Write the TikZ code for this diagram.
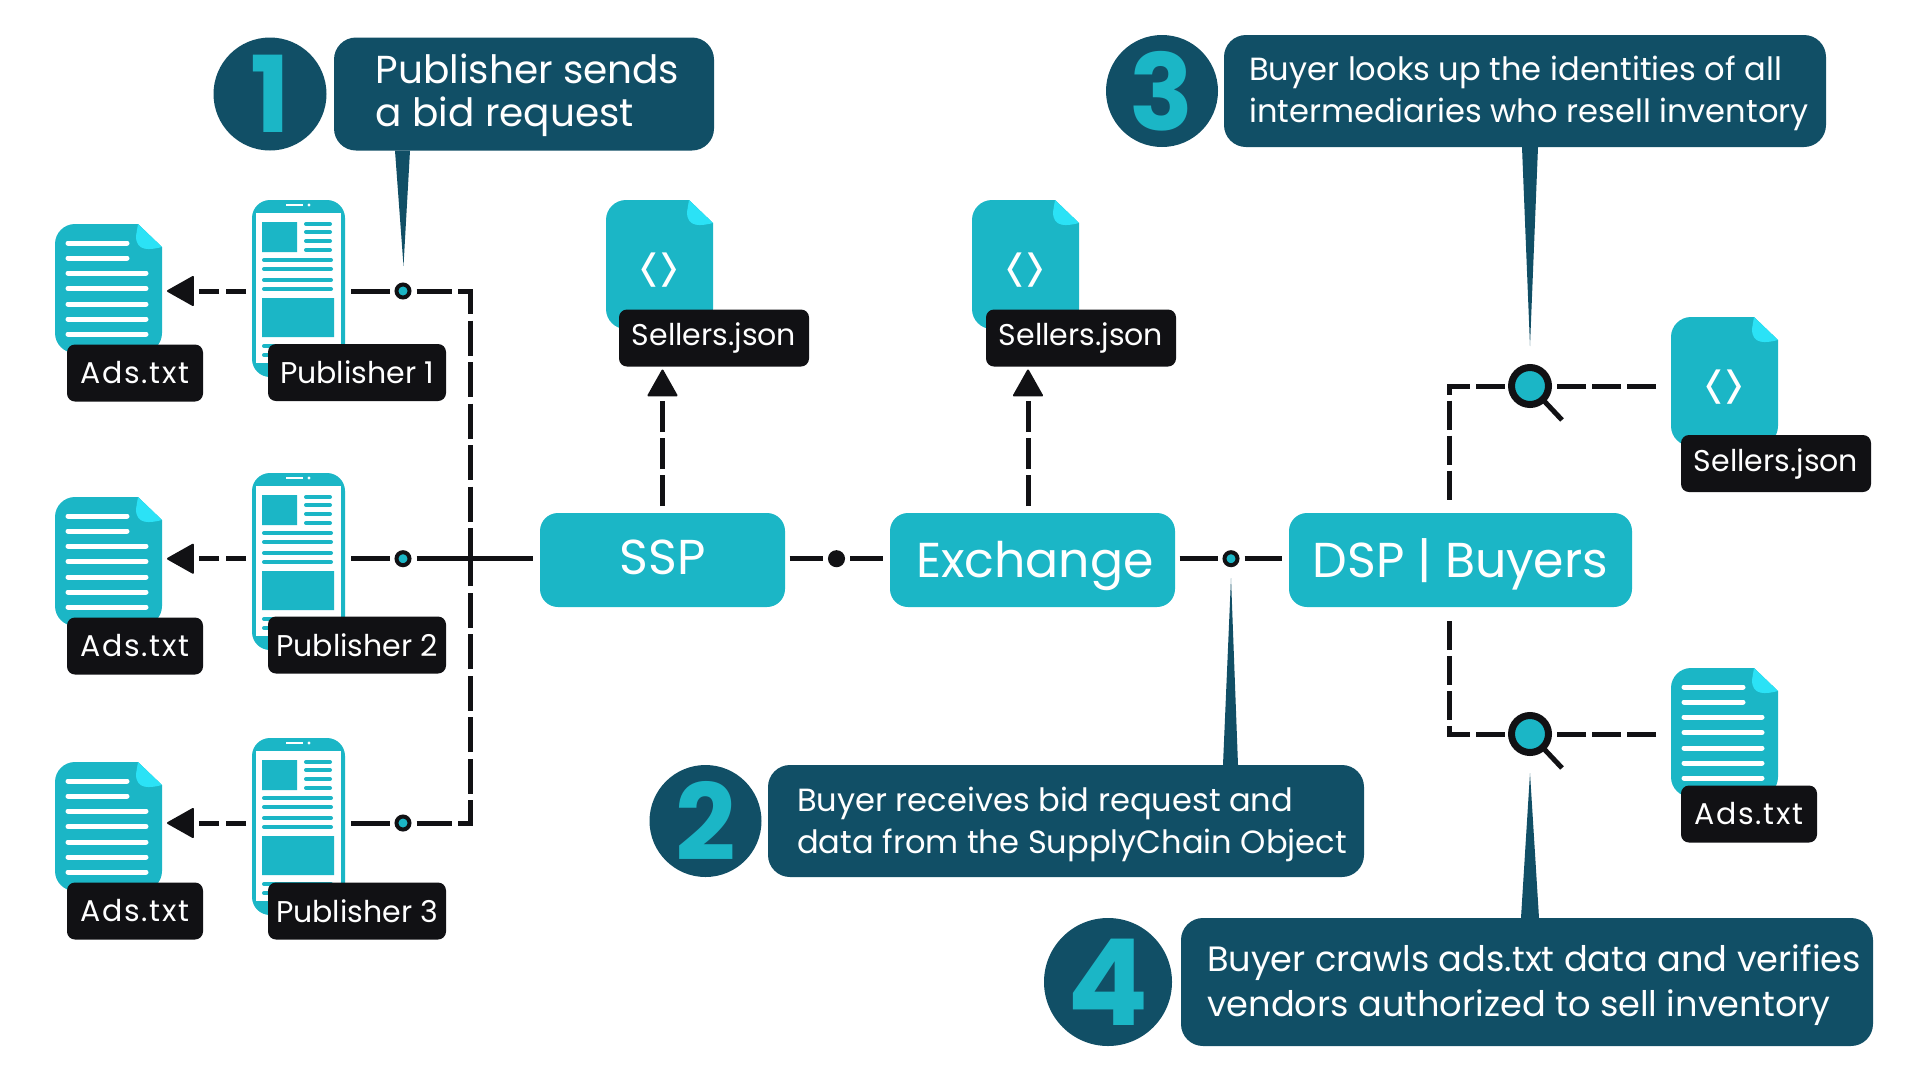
\documentclass[tikz,border=0pt]{standalone}
\usepackage{fontspec}
\setmainfont{Poppins}
\usetikzlibrary{arrows.meta}
\definecolor{tealbox}{HTML}{1BB6C6}
\definecolor{tealfold}{HTML}{2BE2F6}
\definecolor{tealdark}{HTML}{114F66}
\definecolor{inkblack}{HTML}{111114}
\tikzset{
  mainbox/.style={fill=tealbox,text=white,rounded corners=18pt,minimum height=94pt,outer sep=7pt,text height=38pt,text depth=4pt,font=\fontsize{49}{53}\selectfont},
  callout/.style={fill=tealdark,text=white,rounded corners=22pt,align=left,inner sep=0pt},
  numdisc/.style={circle,fill=tealdark,text=tealbox,inner sep=0pt,font=\fontsize{106}{106}\selectfont\bfseries},
  tag/.style={fill=inkblack,text=white,rounded corners=8pt,minimum height=57pt,inner sep=0pt,outer sep=3pt,font=\fontsize{30}{33}\selectfont},
  adstag/.style={tag,minimum width=136pt,font=\fontsize{30}{33}\selectfont\addfontfeatures{LetterSpace=5.5}},
  bluedot/.style={circle,draw=inkblack,fill=tealbox,line width=4pt,minimum size=13pt,inner sep=0pt,outer sep=7pt},
  blackdot/.style={bluedot,fill=inkblack},
  lens/.style={circle,draw=inkblack,fill=tealbox,line width=7pt,minimum size=37pt,inner sep=0pt,outer sep=7pt},
  solidline/.style={draw=inkblack,line width=5pt},
  dashshort/.style={solidline,dash pattern=on 20pt off 7pt},
  dashmid/.style={solidline,dash pattern=on 29pt off 6pt},
  dashlong/.style={solidline,dash pattern=on 35pt off 6.5pt},
  dashup/.style={solidline,dash pattern=on 31pt off 6pt},
  tipblack/.tip={Triangle[length=28pt,width=31pt,line width=2pt,round,fill=inkblack,color=inkblack]},
  docbody/.pic={
    \fill[tealbox] (83,0) -- (107,23) [rounded corners=20pt] -- (107,129) -- (0,129) -- (0,0) [sharp corners] -- cycle;
    \fill[tealfold] (83,0) -- (107,23) .. controls (95,26) and (81,28) .. (81,12) -- cycle;
    \node (-box) [minimum width=107pt,minimum height=129pt,inner sep=0pt,outer sep=5pt] at (53.5,64.5) {};
  },
  adsicon/.pic={
    \pic (-d) {docbody};
    \draw[white,line width=5pt,line cap=round]
      (13,19) -- (72,19) (13,34) -- (72,34) (13,49) -- (91,49) (13,64.5) -- (91,64.5)
      (13,80) -- (91,80) (13,95) -- (91,95) (13,110) -- (91,110);
  },
  codeicon/.pic={
    \pic (-d) {docbody};
    \node (-code) [text=white,font=\fontsize{50}{50}\selectfont] at (53,75) {\scalebox{0.8}[1.5]{<\kern-3pt>}};
  },
  phoneicon/.pic={
    \fill[tealbox,rounded corners=18pt] (0,0) rectangle (93,177);
    \fill[white] (4,13) rectangle (89,163);
    \draw[white,line width=2pt] (34,5) -- (51,5);
    \fill[white] (57,5) circle (1.6pt);
    \fill[tealbox] (10,22) rectangle (45,52) (10,98) rectangle (82,137);
    \draw[tealbox,line width=4pt,line cap=round]
      (54,24) -- (78,24) (54,32) -- (78,32) (54,41) -- (78,41) (54,50) -- (78,50)
      (12,60) -- (79,60) (12,69) -- (79,69) (12,80) -- (79,80) (12,89) -- (79,89)
      (12,146) -- (79,146) (12,155) -- (79,155);
    \node (-box) [minimum width=93pt,minimum height=177pt,inner sep=0pt,outer sep=6pt] at (46.5,88.5) {};
  },
}

\begin{document}
\begin{tikzpicture}[x=1pt,y=-1pt]
\useasboundingbox (0,0) rectangle (1920,1080);

\pic (ads1) at (55,224) {adsicon};
\pic (ads2) at (55,497) {adsicon};
\pic (ads3) at (55,762) {adsicon};
\pic (phone1) at (252,200) {phoneicon};
\pic (phone2) at (252,473) {phoneicon};
\pic (phone3) at (252,738) {phoneicon};
\pic (json1) at (606,200) {codeicon};
\pic (json2) at (972,200) {codeicon};
\pic (json3) at (1671,317) {codeicon};
\pic (ads4) at (1671,668) {adsicon};

\node (adstag1) [adstag] at (135,373) {Ads.txt};
\node (adstag2) [adstag] at (135,646) {Ads.txt};
\node (adstag3) [adstag] at (135,911) {Ads.txt};
\node (adstag4) [adstag] at (1749,814) {Ads.txt};
\node (pubtag1) [tag,minimum width=178pt] at (357,372.5) {Publisher 1};
\node (pubtag2) [tag,minimum width=178pt] at (357,645) {Publisher 2};
\node (pubtag3) [tag,minimum width=178pt] at (357,911) {Publisher 3};
\node (jsontag1) [tag,minimum width=190pt] at (714,338) {Sellers.json};
\node (jsontag2) [tag,minimum width=190pt] at (1081,338) {Sellers.json};
\node (jsontag3) [tag,minimum width=190pt] at (1776,463.5) {Sellers.json};

\node (ssp) [mainbox,minimum width=245pt,text height=36pt,text depth=8pt] at (662.5,560) {SSP\hspace{14pt}};
\node (exchange) [mainbox,minimum width=285pt] at (1032.5,560) {\hspace{5pt}Exchange};
\node (dsp) [mainbox,minimum width=343pt] at (1460.5,560) {DSP | Buyers};

\node (dot1) [bluedot] at (403,291) {};
\node (dot2) [bluedot] at (403,558.7) {};
\node (dot3) [bluedot] at (403,823) {};
\node (dotssp) [blackdot] at (836.5,558.7) {};
\node (dotexch) [bluedot] at (1231,558.7) {};
\node (lens1) [lens] at (1530,386) {};
\node (lens2) [lens] at (1530,734) {};
\coordinate (joint) at (470,558.7);

\draw[solidline,shorten <=20pt] (lens1.center) -- ++(32,34);
\draw[solidline,shorten <=20pt] (lens2.center) -- ++(32,34);

\draw[solidline] (dot1) -- (dot1 -| phone1-box.east);
\draw[solidline] (dot2) -- (dot2 -| phone2-box.east);
\draw[solidline] (dot3) -- (dot3 -| phone3-box.east);
\draw[dashshort,-tipblack] (dot1 -| phone1-box.west) -- (dot1 -| ads1-d-box.east);
\draw[dashshort,-tipblack] (dot2 -| phone2-box.west) -- (dot2 -| ads2-d-box.east);
\draw[dashshort,-tipblack] (dot3 -| phone3-box.west) -- (dot3 -| ads3-d-box.east);
\draw[dashlong] (dot1) -| (joint);
\draw[dashlong] (dot3) -| (joint);
\draw[solidline] (dot2) -- (dot2 -| ssp.west);
\draw[solidline] ([xshift=-2.5pt]ssp.east |- dotssp) -- (dotssp);
\draw[solidline] (dotssp) -- (dotssp -| exchange.west);
\draw[solidline] ([xshift=-2.5pt]exchange.east |- dotexch) -- (dotexch);
\draw[solidline] (dotexch) -- (dotexch -| dsp.west);
\draw[dashup,-tipblack] (ssp.north) -- (ssp.north |- jsontag1.south);
\draw[dashup,-tipblack] ([xshift=-4.5pt]exchange.north) -- ([xshift=-4.5pt]exchange.north |- jsontag2.south);
\draw[dashmid,shorten >=3pt] (lens1) -| ([xshift=-11.5pt]dsp.north);
\draw[dashmid,shorten >=3pt] (lens2) -| ([xshift=-11.5pt]dsp.south);
\draw[dashmid,shorten <=10pt] (lens1 -| json3-d-box.west) -- (lens1);
\draw[dashmid,shorten <=10pt] (lens2 -| ads4-d-box.west) -- (lens2);

\node (callout1) [callout,minimum width=380pt,minimum height=113pt,font=\fontsize{39}{43}\selectfont] at (524,94) {\rule{0pt}{31.5pt}\hspace*{7pt}Publisher sends\\\hspace*{7pt}a bid request};
\node (callout2) [callout,minimum width=596pt,minimum height=112pt,font=\fontsize{32.1}{42}\selectfont] at (1066,821) {\rule{0pt}{31pt}\hspace*{12pt}Buyer receives bid request and\\\hspace*{12pt}data from the SupplyChain Object};
\node (callout3) [callout,minimum width=602pt,minimum height=112pt,font=\fontsize{32.1}{42}\selectfont] at (1525,91) {\rule{0pt}{30pt}\hspace*{8pt}Buyer looks up the identities of all\\\hspace*{8pt}intermediaries who resell inventory};
\node (callout4) [callout,minimum width=692pt,minimum height=128pt,font=\fontsize{35.2}{45}\selectfont] at (1527,982) {\rule{0pt}{33pt}\hspace*{14pt}Buyer crawls ads.txt data and verifies\\\hspace*{14pt}vendors authorized to sell inventory};
\node (num1) [numdisc,minimum size=113pt] at (270,94) {1};
\node (num2) [numdisc,minimum size=112pt] at (705.5,821) {2};
\node (num3) [numdisc,minimum size=112pt] at (1162,91) {3};
\node (num4) [numdisc,minimum size=128pt,font=\fontsize{120}{120}\selectfont\bfseries] at (1108,982) {4};

\coordinate (tip1) at (403.5,266);
\coordinate (tip2) at (1231,578);
\coordinate (tip3) at (1530,346);
\coordinate (tip4) at (1530,773);
\fill[tealdark] ([xshift=-129pt]callout1.south) -- (tip1) -- ([xshift=-114pt]callout1.south) -- cycle;
\fill[tealdark] ([xshift=157pt]callout2.north) -- (tip2) -- ([xshift=172pt]callout2.north) -- cycle;
\fill[tealdark] ([xshift=-3pt]callout3.south) -- (tip3) -- ([xshift=13pt]callout3.south) -- cycle;
\fill[tealdark] ([xshift=-6pt]callout4.north) -- (tip4) -- ([xshift=12pt]callout4.north) -- cycle;
\end{tikzpicture}
\end{document}
